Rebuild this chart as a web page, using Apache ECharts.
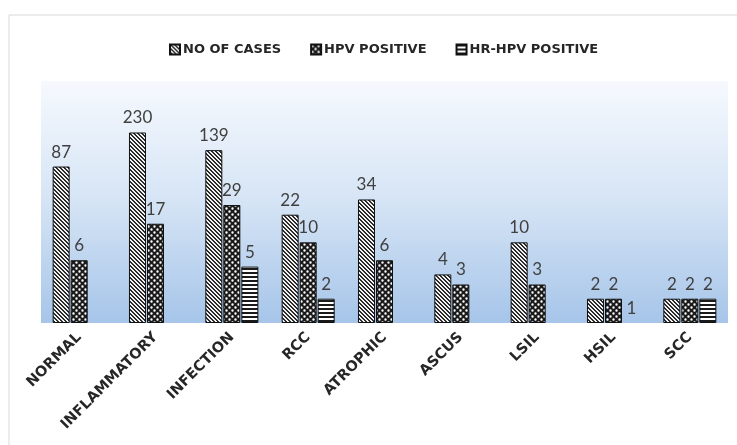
<!DOCTYPE html>
<html>
    <head>
        <meta charset="utf-8">
        <script src="https://cdn.jsdelivr.net/npm/echarts@6/dist/echarts.min.js"></script>
        <style>
            html, body { margin: 0; padding: 0; background: #fff; }
            #main { width: 737px; height: 445px; }
        </style>
    </head>
    <body>
        <div id="main"></div>
        <script>
            var categories = ['NORMAL', 'INFLAMMATORY', 'INFECTION', 'RCC', 'ATROPHIC', 'ASCUS', 'LSIL', 'HSIL', 'SCC'];
            var noOfCases = [87, 230, 139, 22, 34, 4, 10, 2, 2];
            var hpvPositive = [6, 17, 29, 10, 6, 3, 3, 2, 2];
            var hrHpvPositive = [null, null, 5, 2, null, null, null, 1, 2];

            // small canvas tiles for the Excel-like pattern fills
            function tile(w, h, draw) {
                var c = document.createElement('canvas');
                c.width = w;
                c.height = h;
                draw(c.getContext('2d'));
                return c;
            }
            var diagTile = tile(4, 4, function (ctx) {
                ctx.fillStyle = '#f2f2f2';
                ctx.fillRect(0, 0, 4, 4);
                ctx.fillStyle = '#2b2b2b';
                for (var y = 0; y < 4; y++) {
                    for (var x = 0; x < 4; x++) {
                        var d = ((x - y) % 4 + 4) % 4;
                        if (d < 2) ctx.fillRect(x, y, 1, 1);
                    }
                }
            });
            var dotTile = tile(6, 6, function (ctx) {
                ctx.fillStyle = '#1a1a1a';
                ctx.fillRect(0, 0, 6, 6);
                ctx.fillStyle = '#ffffff';
                ctx.beginPath();
                ctx.arc(1.5, 1.5, 1.2, 0, Math.PI * 2);
                ctx.arc(4.5, 4.5, 1.2, 0, Math.PI * 2);
                ctx.fill();
            });
            var stripeTile = tile(4, 4, function (ctx) {
                ctx.fillStyle = '#ffffff';
                ctx.fillRect(0, 0, 4, 4);
                ctx.fillStyle = '#1a1a1a';
                ctx.fillRect(0, 0, 4, 2);
            });

            var labelStyle = {
                show: true,
                position: 'top',
                distance: 6,
                color: '#404040',
                fontFamily: 'Lato',
                fontSize: 17
            };

            function barSeries(name, data, pattern) {
                return {
                    name: name,
                    type: 'bar',
                    // a value of 1 sits on the log baseline: no outline there
                    data: data.map(function (v) {
                        return v === 1 ? { value: v, itemStyle: { borderWidth: 0 } } : v;
                    }),
                    barWidth: 17,
                    barGap: '6%',
                    itemStyle: {
                        color: { image: pattern, repeat: 'repeat' },
                        borderColor: '#111',
                        borderWidth: 1
                    },
                    label: labelStyle
                };
            }

            var chart = echarts.init(document.getElementById('main'));
            chart.setOption({
                animation: false,
                backgroundColor: '#ffffff',
                graphic: [{
                    type: 'rect',
                    shape: { x: 9, y: 15, width: 760, height: 460 },
                    style: { fill: null, stroke: '#d9d9d9', lineWidth: 1 },
                    z: -1
                }],
                legend: {
                    top: 38,
                    left: 164,
                    itemWidth: 10,
                    itemHeight: 10,
                    itemGap: 29,
                    icon: 'rect',
                    textStyle: {
                        fontFamily: 'DejaVu Sans',
                        fontWeight: 'bold',
                        fontSize: 13,
                        color: '#262626',
                        padding: [0, 0, 0, -2]
                    }
                },
                grid: {
                    left: 41,
                    right: 9,
                    top: 81,
                    bottom: 122,
                    show: true,
                    borderWidth: 0,
                    backgroundColor: new echarts.graphic.LinearGradient(0, 0, 0, 1, [
                        { offset: 0, color: '#f6f9fe' },
                        { offset: 0.5, color: '#d5e4f5' },
                        { offset: 1, color: '#a6c5e9' }
                    ])
                },
                xAxis: {
                    type: 'category',
                    data: categories,
                    axisLine: { show: false },
                    axisTick: { show: false },
                    axisLabel: {
                        rotate: 45,
                        margin: 12,
                        interval: 0,
                        fontFamily: 'DejaVu Sans',
                        fontWeight: 'bold',
                        fontSize: 14.5,
                        color: '#262626'
                    }
                },
                yAxis: {
                    type: 'log',
                    logBase: 10,
                    min: 1,
                    max: 1000,
                    show: false,
                    splitLine: { show: false }
                },
                series: [
                    barSeries('NO OF CASES', noOfCases, diagTile),
                    barSeries('HPV POSITIVE', hpvPositive, dotTile),
                    barSeries('HR-HPV POSITIVE', hrHpvPositive, stripeTile)
                ]
            });
        </script>
    </body>
</html>
